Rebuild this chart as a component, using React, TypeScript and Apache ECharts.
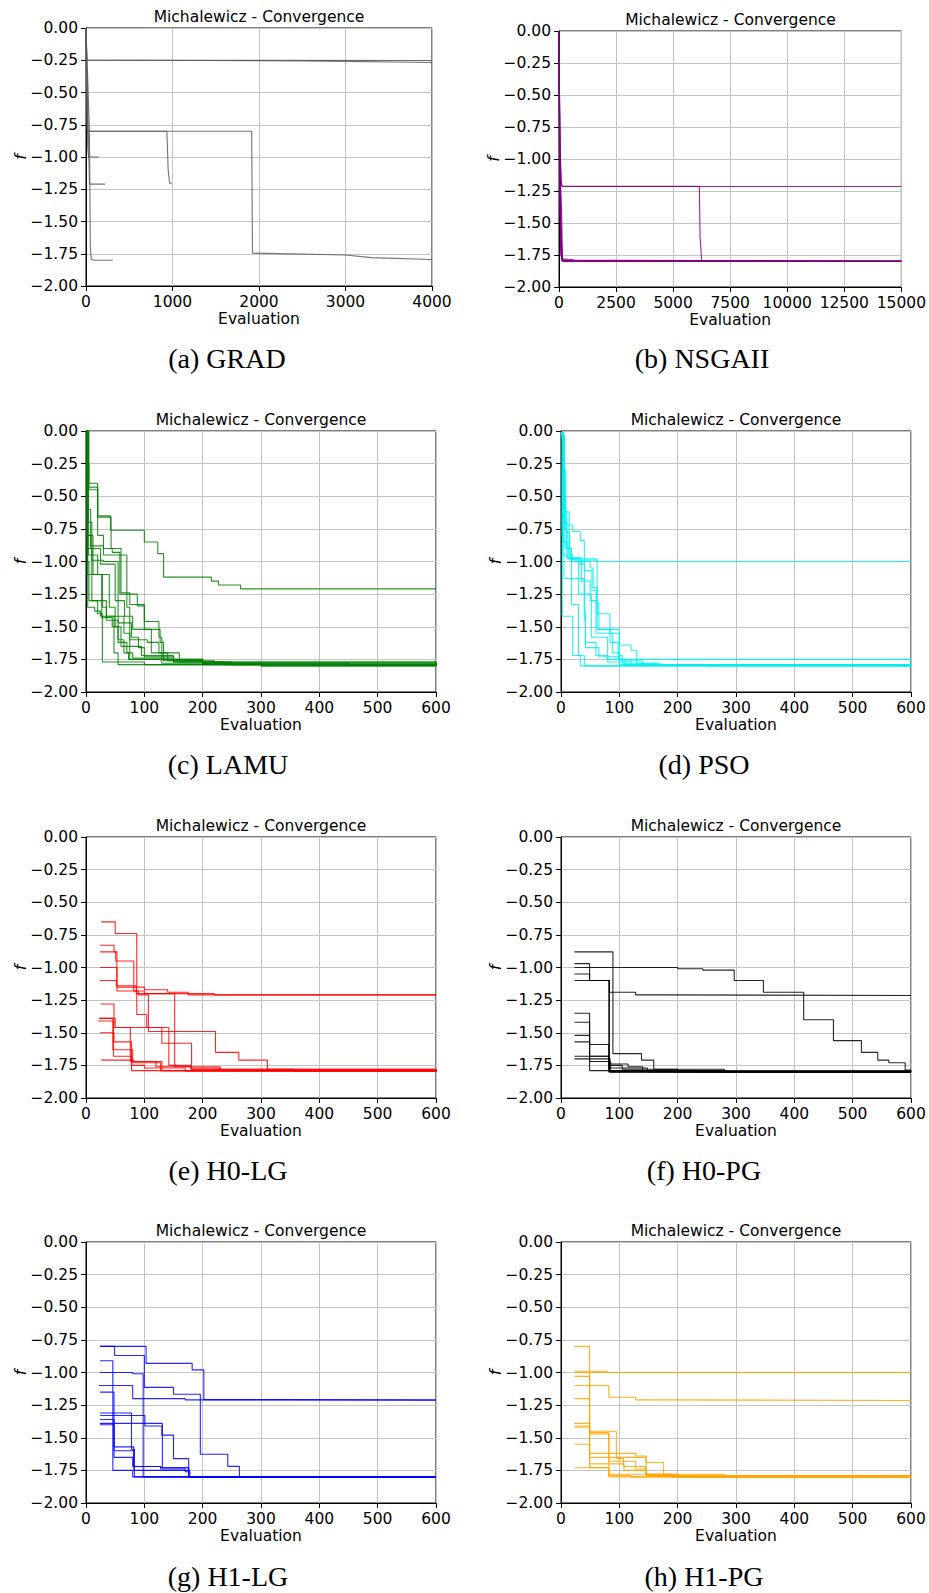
import React, { useEffect, useRef } from "react";
import * as echarts from "echarts";

type Pt = [number, number];

// ---- DATA (best-so-far f per evaluation, one list per run) ----
const GRAD_RUNS: Pt[][] = [
  [[0, 0], [8, -0.25], [4000, -0.252]],
  [[0, 0], [10, -0.248], [2500, -0.255], [4000, -0.268]],
  [[0, 0], [15, -0.8], [935, -0.8], [950, -1.1], [965, -1.2], [990, -1.21]],
  [[0, 0], [15, -0.8], [1915, -0.8], [1925, -1.745], [3000, -1.76], [3300, -1.78], [4000, -1.795]],
  [[0, 0], [20, -0.93], [30, -1.0], [150, -1.0]],
  [[0, 0], [30, -0.9], [40, -1.21], [220, -1.21]],
  [[0, 0], [40, -0.8], [50, -1.7], [60, -1.79], [90, -1.8], [310, -1.8]],
];

const NSGAII_RUNS: Pt[][] = [
  [[0, 0], [30, -0.8], [60, -1.0], [100, -1.2], [150, -1.213], [6150, -1.213], [6180, -1.6], [6250, -1.795], [15000, -1.8]],
  [[0, 0], [40, -0.9], [90, -1.15], [130, -1.215], [15000, -1.215]],
  [[0, 0], [50, -1.1], [110, -1.38], [150, -1.78], [620, -1.787], [700, -1.8], [15000, -1.8]],
  [[0, 0], [30, -1.3], [80, -1.6], [130, -1.79], [400, -1.8], [15000, -1.8]],
  [[0, 0], [20, -1.0], [70, -1.7], [120, -1.795], [15000, -1.8]],
  [[0, 0], [60, -1.4], [100, -1.75], [200, -1.8], [15000, -1.8]],
  [[0, 0], [40, -1.2], [90, -1.75], [150, -1.798], [15000, -1.8]],
  [[0, 0], [25, -0.9], [80, -1.5], [140, -1.79], [15000, -1.8]],
  [[0, 0], [35, -1.0], [95, -1.65], [160, -1.8], [15000, -1.8]],
];

const LAMU_RUNS: Pt[][] = [
  [[0, 0], [3, -0.25], [5, -0.4], [20, -0.65], [42, -0.76], [100, -0.85], [123, -0.94], [133, -1.12], [215, -1.15], [227, -1.18], [265, -1.21], [600, -1.21]],
  [[0, 0], [3, -0.43], [20, -0.66], [43, -0.9], [60, -1.24], [75, -1.33], [100, -1.52], [127, -1.62], [133, -1.76], [200, -1.79], [300, -1.8], [600, -1.8]],
  [[0, 0], [2, -0.8], [8, -0.88], [30, -0.9], [45, -0.93], [58, -1.25], [88, -1.34], [100, -1.46], [125, -1.58], [130, -1.75], [200, -1.78], [300, -1.8], [600, -1.8]],
  [[0, 0], [2, -1.1], [27, -1.43], [45, -1.5], [55, -1.62], [70, -1.7], [80, -1.74], [150, -1.76], [220, -1.78], [600, -1.8]],
  [[0, 0], [4, -0.7], [10, -0.99], [30, -1.0], [55, -1.47], [78, -1.58], [90, -1.66], [100, -1.73], [150, -1.77], [600, -1.8]],
  [[0, 0], [3, -1.35], [15, -1.38], [25, -1.42], [48, -1.7], [55, -1.79], [600, -1.8]],
  [[0, 0], [2, -1.0], [5, -1.3], [20, -1.4], [28, -1.77], [100, -1.79], [600, -1.8]],
  [[0, 0], [2, -0.8], [12, -1.1], [28, -1.35], [35, -1.45], [55, -1.6], [65, -1.7], [73, -1.75], [150, -1.77], [600, -1.8]],
  [[0, 0], [4, -0.95], [20, -1.1], [40, -1.35], [50, -1.5], [60, -1.65], [95, -1.72], [150, -1.75], [200, -1.77], [250, -1.79], [600, -1.8]],
  [[0, 0], [2, -0.9], [10, -1.3], [35, -1.42], [65, -1.55], [75, -1.75], [130, -1.78], [450, -1.795], [600, -1.8]],
  [[0, 0], [5, -0.45], [20, -0.8], [30, -0.95], [70, -1.35], [75, -1.6], [105, -1.62], [125, -1.7], [140, -1.76], [200, -1.78], [600, -1.8]],
  [[0, 0], [3, -0.6], [8, -0.9], [25, -1.02], [50, -1.3], [66, -1.42], [80, -1.52], [112, -1.7], [160, -1.77], [235, -1.79], [600, -1.8]],
];

const PSO_RUNS: Pt[][] = [
  [[0, -0.02], [3, -0.3], [8, -0.62], [14, -0.95], [20, -0.98], [62, -1.0], [600, -1.0]],
  [[0, -0.03], [5, -0.62], [10, -0.72], [20, -0.77], [33, -0.84], [40, -1.07], [53, -1.22], [60, -1.32], [65, -1.52], [84, -1.62], [98, -1.75], [110, -1.79], [600, -1.8]],
  [[0, -0.05], [2, -1.42], [20, -1.72], [33, -1.8], [600, -1.8]],
  [[0, -0.02], [5, -1.13], [40, -1.45], [42, -1.66], [65, -1.73], [100, -1.79], [600, -1.8]],
  [[0, -0.04], [6, -0.75], [10, -0.9], [18, -1.33], [30, -1.72], [40, -1.8], [600, -1.8]],
  [[0, -0.01], [4, -0.5], [8, -0.78], [15, -0.98], [25, -0.99], [60, -1.0], [62, -1.52], [84, -1.52], [100, -1.64], [120, -1.68], [130, -1.78], [165, -1.79], [250, -1.8], [600, -1.8]],
  [[0, -0.02], [3, -0.4], [6, -0.7], [10, -0.97], [20, -1.0], [50, -1.05], [55, -1.2], [62, -1.4], [84, -1.55], [88, -1.7], [100, -1.76], [140, -1.79], [600, -1.8]],
  [[0, -0.03], [4, -0.85], [12, -0.98], [32, -1.02], [40, -1.38], [42, -1.62], [60, -1.72], [80, -1.77], [120, -1.79], [600, -1.8]],
  [[0, -0.02], [3, -0.95], [10, -0.97], [35, -1.15], [50, -1.3], [60, -1.55], [100, -1.72], [105, -1.78], [170, -1.79], [600, -1.8]],
  [[0, -0.01], [2, -0.8], [7, -0.9], [18, -1.0], [30, -1.25], [52, -1.58], [80, -1.75], [600, -1.8]],
];

const H0LG_RUNS: Pt[][] = [
  [[26, -0.65], [50, -0.74], [87, -1.36], [104, -1.46], [130, -1.58], [181, -1.77], [230, -1.79], [600, -1.8]],
  [[24, -0.83], [48, -0.88], [53, -1.15], [100, -1.17], [140, -1.19], [175, -1.21], [600, -1.213]],
  [[24, -0.88], [51, -0.95], [82, -1.18], [100, -1.2], [220, -1.21], [600, -1.213]],
  [[24, -1.0], [53, -1.18], [90, -1.21], [107, -1.49], [222, -1.65], [262, -1.71], [311, -1.78], [356, -1.795], [600, -1.8]],
  [[24, -1.1], [52, -1.14], [86, -1.2], [152, -1.76], [180, -1.78], [600, -1.8]],
  [[22, -1.39], [46, -1.63], [80, -1.73], [128, -1.79], [600, -1.8]],
  [[20, -1.41], [47, -1.68], [78, -1.75], [100, -1.77], [170, -1.795], [600, -1.8]],
  [[25, -1.28], [48, -1.46], [142, -1.75], [180, -1.78], [600, -1.8]],
  [[24, -1.5], [48, -1.57], [78, -1.79], [600, -1.8]],
  [[26, -1.71], [82, -1.72], [130, -1.79], [600, -1.8]],
  [[24, -1.39], [50, -1.46], [76, -1.72], [120, -1.76], [230, -1.785], [600, -1.8]],
];

const H0PG_RUNS: Pt[][] = [
  [[23, -0.88], [89, -1.66], [138, -1.71], [159, -1.78], [200, -1.8], [600, -1.8]],
  [[23, -0.97], [49, -1.0], [200, -1.01], [243, -1.02], [297, -1.1], [347, -1.19], [416, -1.4], [467, -1.56], [515, -1.65], [543, -1.71], [562, -1.73], [590, -1.785], [600, -1.785]],
  [[23, -1.1], [83, -1.19], [128, -1.21], [175, -1.215], [600, -1.215]],
  [[23, -1.0], [49, -1.1], [83, -1.8], [600, -1.8]],
  [[23, -1.35], [49, -1.59], [82, -1.8], [600, -1.8]],
  [[23, -1.42], [49, -1.7], [84, -1.74], [115, -1.76], [140, -1.79], [230, -1.8], [600, -1.8]],
  [[23, -1.52], [49, -1.68], [83, -1.77], [148, -1.79], [280, -1.8], [600, -1.8]],
  [[23, -1.57], [49, -1.79], [150, -1.8], [600, -1.8]],
  [[23, -1.68], [82, -1.75], [105, -1.78], [280, -1.8], [600, -1.8]],
  [[23, -1.7], [49, -1.72], [85, -1.8], [600, -1.8]],
  [[23, -1.05], [49, -1.1], [82, -1.79], [600, -1.8]],
];

const H1LG_RUNS: Pt[][] = [
  [[24, -0.8], [85, -0.8], [103, -0.93], [182, -0.98], [202, -1.208], [340, -1.213], [600, -1.215]],
  [[24, -0.8], [49, -0.87], [100, -1.114], [150, -1.167], [196, -1.627], [243, -1.719], [263, -1.8], [600, -1.8]],
  [[24, -0.91], [46, -1.75], [80, -1.8], [600, -1.8]],
  [[24, -1.0], [80, -1.01], [98, -1.8], [600, -1.8]],
  [[22, -1.1], [80, -1.2], [170, -1.21], [600, -1.215]],
  [[24, -1.15], [48, -1.6], [82, -1.72], [128, -1.73], [176, -1.8], [600, -1.8]],
  [[24, -1.31], [78, -1.59], [83, -1.8], [600, -1.8]],
  [[24, -1.33], [101, -1.41], [130, -1.48], [150, -1.66], [176, -1.8], [600, -1.8]],
  [[24, -1.39], [131, -1.73], [176, -1.8], [600, -1.8]],
  [[24, -1.4], [48, -1.57], [82, -1.75], [178, -1.8], [600, -1.8]],
  [[24, -1.36], [48, -1.65], [80, -1.72], [128, -1.74], [170, -1.76], [176, -1.8], [600, -1.8]],
];

const H1PG_RUNS: Pt[][] = [
  [[23, -0.8], [49, -1.73], [82, -1.8], [600, -1.8]],
  [[23, -0.99], [80, -1.0], [600, -1.0]],
  [[23, -1.0], [600, -1.0]],
  [[23, -1.03], [49, -1.47], [82, -1.68], [128, -1.74], [146, -1.79], [600, -1.8]],
  [[23, -1.1], [82, -1.19], [128, -1.21], [176, -1.215], [600, -1.215]],
  [[23, -1.2], [49, -1.45], [95, -1.66], [107, -1.72], [145, -1.78], [280, -1.8], [600, -1.8]],
  [[23, -1.39], [49, -1.62], [128, -1.64], [146, -1.78], [190, -1.8], [600, -1.8]],
  [[23, -1.41], [49, -1.46], [82, -1.7], [108, -1.75], [146, -1.79], [600, -1.8]],
  [[23, -1.42], [49, -1.65], [146, -1.69], [176, -1.79], [230, -1.8], [600, -1.8]],
  [[23, -1.55], [49, -1.7], [82, -1.78], [200, -1.8], [600, -1.8]],
  [[23, -1.73], [82, -1.79], [120, -1.8], [600, -1.8]],
];

const CHART_TITLE = "Michalewicz - Convergence";
const X_NAME = "Evaluation";
const Y_NAME = "f";
const CAPTIONS = ["(a) GRAD", "(b) NSGAII", "(c) LAMU", "(d) PSO", "(e) H0-LG", "(f) H0-PG", "(g) H1-LG", "(h) H1-PG"];
const X_MAX = [4000, 15000, 600, 600, 600, 600, 600, 600];
const X_STEP = [1000, 2500, 100, 100, 100, 100, 100, 100];
const Y_MIN = -2;
const Y_MAX = 0;
const Y_STEP = 0.25;

const RUNS = [GRAD_RUNS, NSGAII_RUNS, LAMU_RUNS, PSO_RUNS, H0LG_RUNS, H0PG_RUNS, H1LG_RUNS, H1PG_RUNS];
const COLORS = [
  "rgba(90,90,90,0.85)",
  "rgba(128,0,128,0.85)",
  "rgba(0,128,0,0.85)",
  "rgba(0,240,240,0.85)",
  "rgba(255,0,0,0.85)",
  "rgba(0,0,0,0.85)",
  "rgba(0,0,255,0.85)",
  "rgba(255,165,0,0.85)",
];
const STEPPED = [false, false, true, true, true, true, true, true];

// layout (px): [left, top, width, height]
const BOXES = [
  [86, 28, 346, 258],
  [559, 31, 343, 256],
  [86, 431, 350, 261],
  [561, 431, 350, 261],
  [86, 837, 350, 261],
  [561, 837, 350, 261],
  [86, 1242, 350, 261],
  [561, 1242, 350, 261],
];
const CAPTION_POS = [
  [227, 358], [702, 358],
  [228, 764], [704, 764],
  [228, 1170], [704, 1170],
  [228, 1576], [704, 1576],
];

const SANS = '"DejaVu Sans", sans-serif';
const FS = 15.5;

export default function App() {
  const ref = useRef<HTMLDivElement>(null);
  useEffect(() => {
    if (!ref.current) return;
    const chart = echarts.init(ref.current, null, { renderer: "svg" });
    const grids: any[] = [];
    const xAxes: any[] = [];
    const yAxes: any[] = [];
    const series: any[] = [];
    const graphics: any[] = [];
    const fmtY = (v: number) => {
      if (Math.abs(v) < 1e-9) return "0.00";
      return (v < 0 ? "\u2212" : "") + Math.abs(v).toFixed(2);
    };
    const fmtX = (v: number) => String(Math.round(v));
    BOXES.forEach((b, i) => {
      const [left, top, w, h] = b;
      grids.push({ left, top, width: w, height: h, show: true, borderColor: "#000", borderWidth: 1, backgroundColor: "transparent" });
      xAxes.push({
        gridIndex: i,
        type: "value",
        min: 0,
        max: X_MAX[i],
        interval: X_STEP[i],
        axisLine: { show: true, onZero: false, lineStyle: { color: "#000", width: 1 } },
        axisTick: { show: true, inside: false, length: 5, lineStyle: { color: "#000", width: 1 } },
        axisLabel: { color: "#000", fontSize: FS, fontFamily: SANS, margin: 8, formatter: fmtX, showMaxLabel: true, showMinLabel: true },
        splitLine: { show: true, lineStyle: { color: "#c4c4c4", width: 1 } },
        name: X_NAME,
        nameLocation: "middle",
        nameGap: 24,
        nameTextStyle: { color: "#000", fontSize: FS, fontFamily: SANS },
      });
      yAxes.push({
        gridIndex: i,
        type: "value",
        min: Y_MIN,
        max: Y_MAX,
        interval: Y_STEP,
        axisLine: { show: true, onZero: false, lineStyle: { color: "#000", width: 1 } },
        axisTick: { show: true, inside: false, length: 5, lineStyle: { color: "#000", width: 1 } },
        axisLabel: { color: "#000", fontSize: FS, fontFamily: SANS, margin: 8, formatter: fmtY, showMaxLabel: true, showMinLabel: true },
        splitLine: { show: true, lineStyle: { color: "#c4c4c4", width: 1 } },
      });
      RUNS[i].forEach((run) => {
        series.push({
          type: "line",
          xAxisIndex: i,
          yAxisIndex: i,
          data: run,
          step: STEPPED[i] ? "end" : false,
          showSymbol: false,
          symbol: "none",
          silent: true,
          clip: true,
          lineStyle: { width: 1.1, color: COLORS[i] },
          itemStyle: { color: COLORS[i] },
          z: 3,
        });
      });
      graphics.push({
        type: "text",
        x: left + w / 2,
        y: top - 11,
        style: { text: CHART_TITLE, font: `${FS}px ${SANS}`, fill: "#000", textAlign: "center", textVerticalAlign: "middle" },
      });
      graphics.push({
        type: "text",
        x: left - 65,
        y: top + h / 2,
        rotation: Math.PI / 2,
        style: { text: Y_NAME, font: `italic ${FS}px ${SANS}`, fill: "#000", textAlign: "center", textVerticalAlign: "middle" },
      });
      graphics.push({
        type: "text",
        x: CAPTION_POS[i][0],
        y: CAPTION_POS[i][1],
        style: { text: CAPTIONS[i], font: '28px "Liberation Serif", serif', fill: "#000", textAlign: "center", textVerticalAlign: "middle" },
      });
    });
    chart.setOption({
      animation: false,
      backgroundColor: "#fff",
      grid: grids,
      xAxis: xAxes,
      yAxis: yAxes,
      series,
      graphic: { elements: graphics },
    });
    return () => chart.dispose();
  }, []);
  return <div ref={ref} style={{ position: "absolute", left: 0, top: 0, width: 929, height: 1593 }} />;
}
